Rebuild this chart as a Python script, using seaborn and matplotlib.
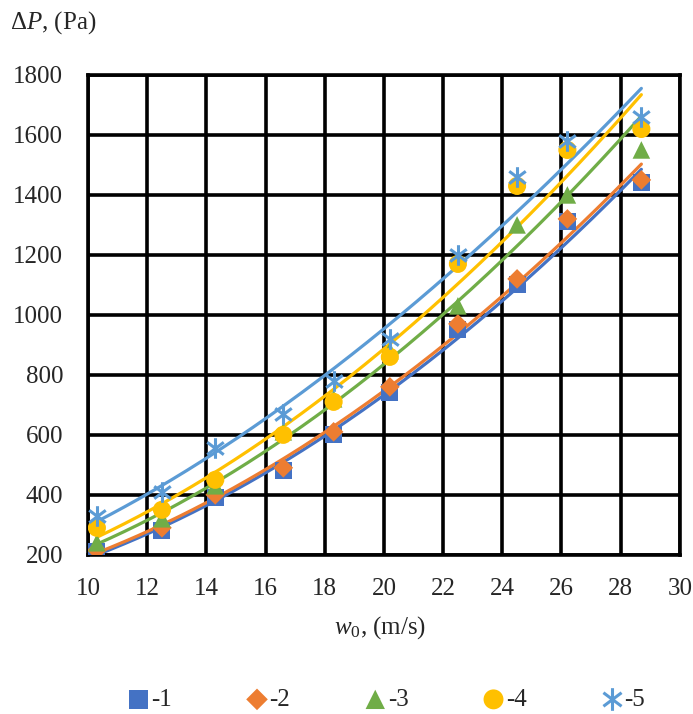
import numpy as np
import pandas as pd
import matplotlib
matplotlib.use("Agg")
import matplotlib.pyplot as plt
from matplotlib.path import Path
import seaborn as sns

# air velocity, m/s
w0 = [10.3, 12.5, 14.3, 16.6, 18.3, 20.2, 22.5, 24.5, 26.2, 28.7]

# pressure drop, Pa, for each case
dp_1 = [210, 280, 390, 480, 600, 740, 950, 1100, 1310, 1440]
dp_2 = [215, 290, 400, 490, 610, 760, 970, 1120, 1320, 1450]
dp_3 = [240, 320, 430, 610, 720, 880, 1030, 1300, 1400, 1550]
dp_4 = [290, 350, 450, 600, 710, 860, 1170, 1430, 1550, 1620]
dp_5 = [330, 410, 555, 670, 780, 920, 1200, 1460, 1580, 1660]

labels = ["-1", "-2", "-3", "-4", "-5"]
colors = ["#4472C4", "#ED7D31", "#70AD47", "#FFC000", "#5B9BD5"]

# excel style star: X plus vertical bar
star = Path([(0, -1), (0, 1), (-0.8, -0.6), (0.8, 0.6), (-0.8, 0.6), (0.8, -0.6)],
            [Path.MOVETO, Path.LINETO, Path.MOVETO, Path.LINETO, Path.MOVETO, Path.LINETO])
markers = ["s", "D", "^", "o", star]
sizes = [150, 100, 160, 170, 220]

sns.set_style("white")
plt.rcParams["font.family"] = ["Liberation Serif", "DejaVu Serif"]
plt.rcParams["mathtext.fontset"] = "custom"
plt.rcParams["mathtext.rm"] = "Liberation Serif"
plt.rcParams["mathtext.it"] = "Liberation Serif:italic"

df = pd.DataFrame({"w0": w0 * 5,
                   "dp": dp_1 + dp_2 + dp_3 + dp_4 + dp_5,
                   "case": sum([[l] * len(w0) for l in labels], [])})

fig = plt.figure(figsize=(6.93, 7.14), dpi=100)
ax = fig.add_axes([0.127, 0.223, 0.854, 0.672])

xs = np.linspace(min(w0), max(w0), 200)
for lab, col in zip(labels, colors):
    sub = df[df["case"] == lab]
    # power trend line like excel (fit in log-log)
    b, lna = np.polyfit(np.log(sub["w0"]), np.log(sub["dp"]), 1)
    ax.plot(xs, np.exp(lna) * xs ** b, color=col, lw=2.3, zorder=2)

for lab, col, m, s in zip(labels, colors, markers, sizes):
    sub = df[df["case"] == lab]
    lw = 2.2 if lab == "-5" else 0
    sns.scatterplot(data=sub, x="w0", y="dp", ax=ax, color=col, marker=m, s=s,
                    edgecolor=col if lab == "-5" else "none", linewidth=lw,
                    label=lab, zorder=3)

ax.set_xlim(10, 30)
ax.set_ylim(200, 1800)
ax.set_xticks(np.arange(10, 31, 2))
ax.set_yticks(np.arange(200, 1801, 200))
ax.grid(True, color="black", lw=2.6)
for sp in ax.spines.values():
    sp.set_color("black")
    sp.set_linewidth(2.6)
ax.tick_params(labelsize=18, length=0)
ax.tick_params(axis="x", pad=17)
ax.tick_params(axis="y", pad=18)
ax.set_xlabel("")
ax.set_ylabel("")

fig.text(0.015, 0.968, r"$\Delta P$, (Pa)", fontsize=18, va="center", ha="left")
fig.text(0.548, 0.121, r"$w_0$, (m/s)", fontsize=18, va="center", ha="center")

ax.legend(loc="center", bbox_to_anchor=(0.505, -0.302), ncol=5, frameon=False,
          fontsize=18, handlelength=0.8, handletextpad=0.1, columnspacing=3.0,
          markerscale=1.1)

fig.savefig("out.png", dpi=100)
